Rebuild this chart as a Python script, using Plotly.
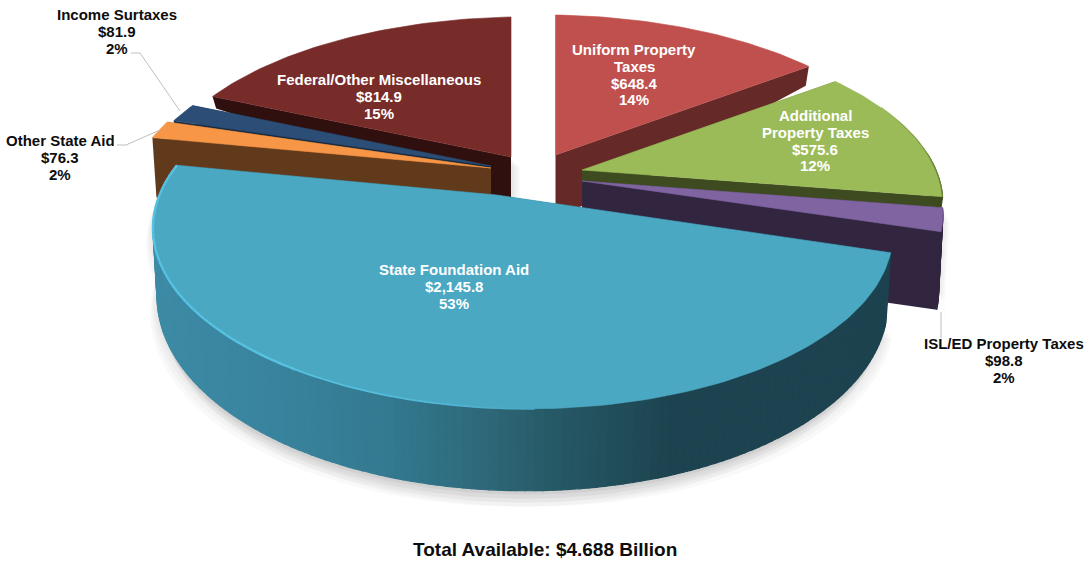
import math
import plotly.graph_objects as go

# ---- data ----
categories = ["Uniform Property Taxes", "Additional Property Taxes", "ISL/ED Property Taxes",
              "State Foundation Aid", "Other State Aid", "Income Surtaxes",
              "Federal/Other Miscellaneous"]
values = [648.4, 575.6, 98.8, 2145.8, 76.3, 81.9, 814.9]
percents = [14, 12, 2, 53, 2, 2, 15]
label_lines = [["Uniform Property", "Taxes"], ["Additional", "Property Taxes"], ["ISL/ED Property Taxes"],
               ["State Foundation Aid"], ["Other State Aid"], ["Income Surtaxes"],
               ["Federal/Other Miscellaneous"]]
footer = "Total Available: $4.688 Billion"

# ---- styling and projection of each slice ----
top_col = ["#c0504d", "#9bbb59", "#8064a2", "#4aa8c3", "#f79646", "#2c4d75", "#772c2a"]
wall_col = ["#652a28", "#3e4a1f", "#31253f", "#1d4350", "#613a1b", "#14283c", "#30100f"]
apex = [(555.5, 155), (582, 170), (582, 181), (496.5, 195), (491, 168), (491, 166), (511, 157)]
persp_q = [0.04, 0.04, 0.04, -0.07, -0.05, -0.05, -0.05]
radius = [1.0, 1.0, 1.0, 1.0, 1.02, 1.0, 1.0]
x_scale = [1.0, 1.0, 1.0, 0.98, 1.0, 1.0, 1.0]
y_scale = [1.0, 1.0, 1.0, 1.015, 1.0, 1.0, 1.0]
depth0 = [65, 30, 78, 65, 60, 20, 45]
depth1 = [75, 0, 0, 17, 0, 0, 81]
draw_order = [6, 0, 5, 4, 1, 2, 3]
label_xy = [(634, 49.5), (815, 115.5), (1004, 343.5), (454, 269.5), (60, 140.5), (117, 14.5), (379, 79.5)]
label_col = ["white", "white", "#0d0d0d", "white", "#0d0d0d", "#0d0d0d", "white"]
shadow_dirs = {3: [(-7, 16), (6, 16)], 2: [(7, 14)], 6: [(9, 10)], 0: [(-9, 10)]}
RX, RY, P = 368.0, 168.0, 0.2
SHRINK = 0.988


def top_pt(i, a):
    X, Y = math.sin(a), math.cos(a)
    k = radius[i] / (1 + P * Y + persp_q[i] * X)
    return apex[i][0] + RX * x_scale[i] * X * k, apex[i][1] - RY * y_scale[i] * Y * k


def bottom_pt(i, x, y, Y):
    d = max(0.0, depth0[i] - depth1[i] * Y)
    return apex[i][0] + (x - apex[i][0]) * SHRINK, y + d


def poly(fig, pts, color, width=1.2):
    xs = [p[0] for p in pts] + [pts[0][0]]
    ys = [p[1] for p in pts] + [pts[0][1]]
    line = dict(color=color, width=width) if width else dict(width=0)
    fig.add_trace(go.Scatter(x=xs, y=ys, mode="lines", fill="toself", fillcolor=color,
                             line=line, hoverinfo="skip", showlegend=False))


def seg_line(fig, p, q, color, width):
    fig.add_trace(go.Scatter(x=[p[0], q[0]], y=[p[1], q[1]], mode="lines",
                             line=dict(color=color, width=width), hoverinfo="skip", showlegend=False))


def lerp_hex(stops, t):
    if t <= stops[0][0]:
        return stops[0][1]
    for (t0, c0), (t1, c1) in zip(stops, stops[1:]):
        if t <= t1:
            f = (t - t0) / (t1 - t0)
            rgb = [int(int(c0[j:j + 2], 16) * (1 - f) + int(c1[j:j + 2], 16) * f) for j in (1, 3, 5)]
            return "rgb(%d,%d,%d)" % tuple(rgb)
    return stops[-1][1]


main_wall_by_x = [(155, "#3e8ba6"), (300, "#38829c"), (390, "#347a90"), (480, "#2f6a7c"),
                  (560, "#275966"), (680, "#1c434f"), (900, "#1c4350")]
rim_by_x = [(153, "#58c2e2"), (300, "#58c2e2"), (430, "#54bad9"), (540, "#4aa8c3")]
green_rim = [(880, "#9bbb59"), (920, "#7d9a45"), (945, "#5f7a30")]

fig = go.Figure()
total = sum(values)
starts = []
c = 0.0
for v in values:
    starts.append(c)
    c += v


def geometry(i):
    a0 = starts[i] / total * 2 * math.pi
    a1 = (starts[i] + values[i]) / total * 2 * math.pi
    n = max(8, int((a1 - a0) / 0.02))
    ang = [a0 + (a1 - a0) * j / n for j in range(n + 1)]
    arc = [top_pt(i, a) for a in ang]
    low = [bottom_pt(i, p[0], p[1], math.cos(a)) for p, a in zip(arc, ang)]
    return ang, arc, low


# soft shadows, drawn first so they only show on the white ground
for i, dirs in shadow_dirs.items():
    ang, arc, low = geometry(i)
    ap_low = (apex[i][0], apex[i][1] + depth0[i])
    outline = [apex[i]] + arc + low[::-1] + [ap_low]
    for sx, sy in dirs:
        for t in (1.0, 0.75, 0.5, 0.25):
            poly(fig, [(p[0] + sx * t, p[1] + sy * t) for p in outline], "rgba(0,0,0,0.022)", width=0)

for i in draw_order:
    ang, arc, low = geometry(i)
    n = len(ang) - 1
    ap = apex[i]
    ap_low = (ap[0], ap[1] + depth0[i])
    poly(fig, [ap, arc[0], low[0], ap_low], wall_col[i], width=0)
    poly(fig, [ap, arc[-1], low[-1], ap_low], wall_col[i], width=0)
    for j in range(n):
        if math.cos(ang[j]) > 0.1 and math.cos(ang[j + 1]) > 0.1:
            continue  # the far side of the rim is hidden by the slice's top
        col = wall_col[i]
        if i == 3:
            col = lerp_hex(main_wall_by_x, arc[j][0])
        poly(fig, [arc[j], arc[j + 1], low[j + 1], low[j]], col)
    poly(fig, [ap] + arc, top_col[i], width=0.6)
    if i == 3:
        for j in range(n):
            if arc[j][0] < 540 and ang[j] > math.radians(170):
                seg_line(fig, arc[j], arc[j + 1], lerp_hex(rim_by_x, arc[j][0]),
                         2.4 if arc[j][0] < 300 else 1.8)
    if i == 1:
        for j in range(n):
            if arc[j][0] > 880:
                seg_line(fig, arc[j], arc[j + 1], lerp_hex(green_rim, arc[j][0]), 1.2)

# leader lines
leaders = [([131, 140, 180], [53, 53, 111]), ([117, 126, 160], [145, 145, 130]), ([941, 941], [312, 338])]
for lx, ly in leaders:
    fig.add_trace(go.Scatter(x=lx, y=ly, mode="lines", line=dict(color="#bfbfbf", width=1),
                             hoverinfo="skip", showlegend=False))

# labels
LINE = 16.8
anns = []
for i, (x, y) in enumerate(label_xy):
    lines = label_lines[i] + ["$" + format(values[i], ",.1f"), "%d%%" % percents[i]]
    for k, t in enumerate(lines):
        anns.append(dict(x=x, y=y + k * LINE, text="<b>%s</b>" % t, showarrow=False, xanchor="center",
                         yanchor="middle", font=dict(family="Liberation Sans", size=15, color=label_col[i])))
anns.append(dict(x=545, y=549, text="<b>%s</b>" % footer, showarrow=False, xanchor="center", yanchor="middle",
                 font=dict(family="Liberation Sans", size=19, color="#0d0d0d")))

fig.update_layout(width=1091, height=563, margin=dict(l=0, r=0, t=0, b=0), paper_bgcolor="white",
                  plot_bgcolor="white", showlegend=False, annotations=anns,
                  xaxis=dict(range=[0, 1091], visible=False, fixedrange=True),
                  yaxis=dict(range=[563, 0], visible=False, fixedrange=True))
fig.write_html("out.html", config={"displayModeBar": False},
               post_script="document.body.style.margin='0';document.body.style.overflow='hidden';")
